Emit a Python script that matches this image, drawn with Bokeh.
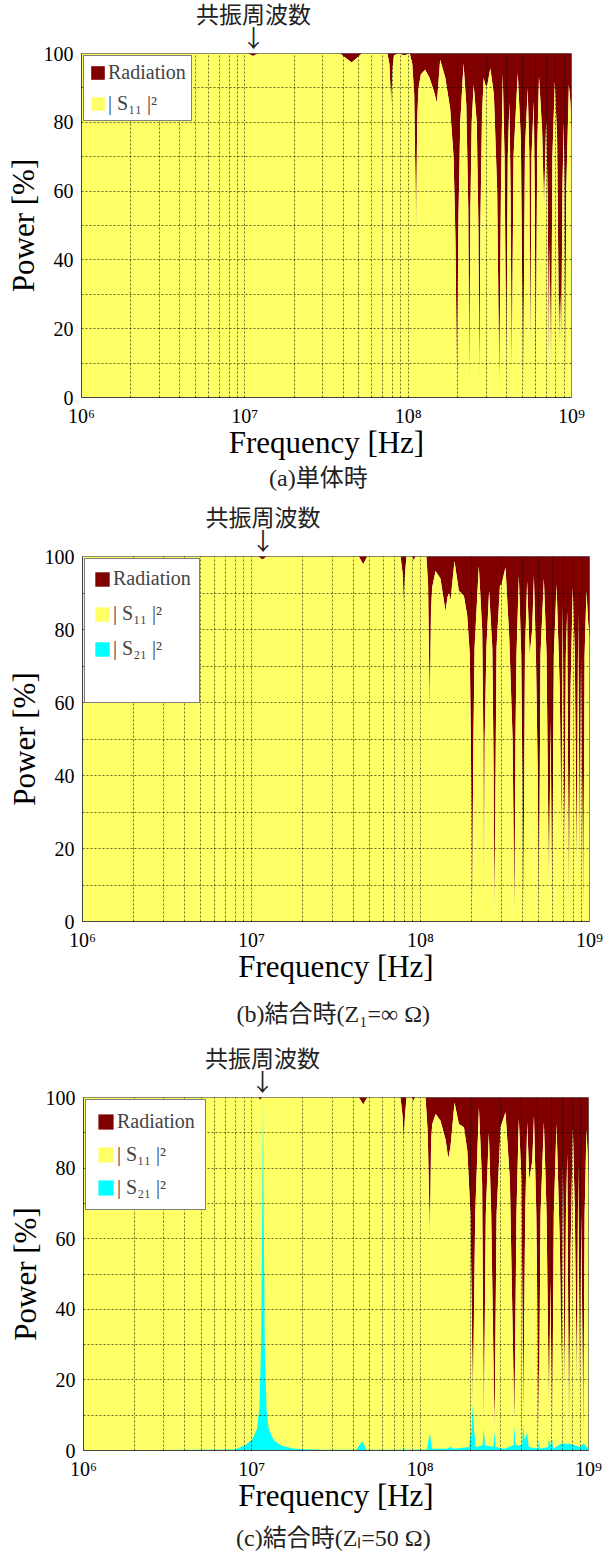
import numpy as np
from bokeh.plotting import figure
from bokeh.models import Range1d, FixedTicker, Legend, LegendItem, Title
from bokeh.embed import file_html
from bokeh.resources import INLINE

MAROON = "#800000"
YELLOW = "#FFFF66"
CYAN = "#00FFFF"
SERIF = "Liberation Serif"
MIXED = "Liberation Serif, Noto Sans CJK JP"
CJK = "Noto Sans CJK JP"

# ---------------- data (x = log10 of frequency in Hz, y = power in %) ----------------
# (a) single antenna : |S11|^2 (rest up to 100 % = radiation)
s11_a_points = [
    (6.000, 100), (7.020, 100), (7.050, 99.3), (7.080, 100), (7.583, 100), (7.654, 97.4),
    (7.716, 100), (7.873, 100), (7.885, 97), (7.896, 85.1), (7.905, 96), (7.913, 99.5),
    (7.945, 100), (7.975, 99.4), (8.010, 100), (8.025, 97), (8.037, 88), (8.049, 48.4),
    (8.055, 80), (8.063, 90), (8.078, 94), (8.104, 95.3), (8.130, 93), (8.158, 89),
    (8.176, 85.6), (8.186, 92), (8.196, 98.2), (8.227, 93), (8.257, 84), (8.278, 70),
    (8.290, 45), (8.299, 0.5), (8.307, 50), (8.319, 80), (8.339, 97.2), (8.356, 85),
    (8.368, 55), (8.374, 2), (8.381, 55), (8.389, 80), (8.401, 90.9), (8.420, 80),
    (8.430, 50), (8.436, 2.5), (8.442, 50), (8.452, 82), (8.462, 92.8), (8.472, 91),
    (8.483, 90.4), (8.503, 95.7), (8.525, 88), (8.545, 60), (8.558, 2), (8.568, 60),
    (8.579, 94.3), (8.590, 70), (8.601, 8.8), (8.610, 70), (8.620, 86), (8.627, 60),
    (8.634, 5), (8.645, 70), (8.671, 94.3), (8.690, 75), (8.704, 1), (8.715, 72),
    (8.732, 90), (8.742, 70), (8.748, 10.7), (8.755, 70), (8.769, 86), (8.775, 60),
    (8.781, 2), (8.790, 72), (8.801, 93.3), (8.820, 78), (8.832, 55), (8.845, 81),
    (8.855, 55), (8.861, 7.8), (8.866, 45), (8.875, 5), (8.883, 70), (8.898, 91.9),
    (8.912, 75), (8.924, 13.6), (8.930, 30), (8.937, 14.6), (8.945, 62), (8.953, 80),
    (8.957, 60), (8.961, 2), (8.968, 60), (8.984, 90.9), (8.993, 86), (9.000, 78.4),
]

# (b) coupled, Z1 = inf : |S11|^2 + |S21|^2 (top of the yellow area)
total_b_points = [
    (6.000, 100), (7.040, 100), (7.065, 99.2), (7.090, 100), (7.635, 100), (7.661, 97.9),
    (7.684, 100), (7.882, 100), (7.895, 95), (7.901, 87), (7.908, 95), (7.917, 100),
    (7.950, 100), (7.960, 99), (7.970, 100), (8.035, 100), (8.045, 92), (8.055, 56),
    (8.062, 85), (8.069, 91.5), (8.089, 96), (8.118, 94), (8.148, 85), (8.160, 89),
    (8.168, 90), (8.178, 88), (8.201, 98.8), (8.227, 90.6), (8.257, 89.2), (8.276, 84),
    (8.292, 73), (8.300, 40), (8.306, 3), (8.312, 45), (8.320, 75), (8.345, 97.4),
    (8.365, 80), (8.372, 50), (8.375, 3), (8.380, 50), (8.390, 75), (8.406, 90.6),
    (8.425, 75), (8.433, 40), (8.438, 1), (8.444, 40), (8.450, 75), (8.470, 92),
    (8.480, 92.5), (8.503, 97), (8.525, 78), (8.545, 50), (8.556, 1), (8.562, 50),
    (8.568, 73), (8.582, 94.7), (8.596, 73), (8.603, 40), (8.608, 1.6), (8.614, 40),
    (8.618, 73), (8.631, 93.3), (8.646, 73), (8.661, 80), (8.671, 94.7), (8.683, 73),
    (8.694, 40), (8.700, 2), (8.706, 40), (8.710, 73), (8.730, 94), (8.746, 73),
    (8.760, 9.4), (8.770, 55), (8.779, 2), (8.789, 73), (8.805, 92.4), (8.824, 64),
    (8.834, 23), (8.842, 87), (8.852, 17.6), (8.860, 73), (8.868, 85), (8.878, 2),
    (8.888, 64), (8.901, 91.5), (8.913, 73), (8.925, 14), (8.933, 85), (8.943, 13),
    (8.950, 73), (8.963, 1), (8.971, 73), (8.982, 90.6), (8.992, 82), (9.000, 78),
]
s21_b_points = [(6.000, 0), (9.000, 0)]

# (c) coupled, Zl = 50 ohm
total_c_points = [
    (6.000, 100), (7.040, 100), (7.050, 99.3), (7.060, 100), (7.636, 100), (7.662, 98),
    (7.685, 100), (7.883, 100), (7.895, 95), (7.903, 87.8), (7.910, 95), (7.919, 100),
    (7.950, 100), (7.960, 99), (7.970, 100), (8.032, 100), (8.045, 90), (8.058, 60),
    (8.065, 88), (8.072, 92.5), (8.092, 95.3), (8.121, 93.4), (8.151, 88), (8.167, 82.7),
    (8.180, 86), (8.204, 98.6), (8.230, 92.5), (8.260, 91.6), (8.280, 85), (8.299, 67),
    (8.313, 13), (8.327, 67), (8.349, 97.2), (8.368, 76), (8.378, 6), (8.390, 67),
    (8.408, 90), (8.422, 67), (8.442, 5.4), (8.454, 67), (8.478, 91.6), (8.507, 95.8),
    (8.533, 76.6), (8.560, 7), (8.572, 67), (8.586, 93.9), (8.602, 76.6), (8.612, 7.3),
    (8.624, 67), (8.636, 93), (8.648, 76.6), (8.666, 82), (8.676, 94.8), (8.690, 67),
    (8.705, 3.1), (8.715, 67), (8.735, 93), (8.751, 67), (8.765, 11), (8.774, 48),
    (8.784, 3.5), (8.794, 67), (8.810, 92.5), (8.830, 58), (8.840, 20), (8.848, 81),
    (8.858, 16), (8.866, 67), (8.874, 84), (8.884, 2), (8.894, 58), (8.907, 91.6),
    (8.919, 67), (8.931, 17.5), (8.939, 81), (8.949, 13), (8.957, 67), (8.969, 2),
    (8.977, 67), (8.988, 91), (8.998, 81), (9.000, 74.7),
]
s21_c_points = [
    (6.000, 0), (6.900, 0.3), (6.960, 1.5), (7.000, 3), (7.030, 6), (7.045, 12),
    (7.055, 30), (7.062, 70), (7.066, 99.5), (7.070, 70), (7.077, 30), (7.087, 12),
    (7.100, 6), (7.130, 3), (7.170, 1.5), (7.250, 0.5), (7.400, 0.2), (7.620, 0.2),
    (7.656, 2.6), (7.680, 0.2), (7.900, 0.2), (7.903, 1), (7.910, 0.2), (8.040, 0.3),
    (8.058, 5), (8.070, 0.5), (8.160, 0.5), (8.180, 1), (8.200, 0.5), (8.290, 1),
    (8.305, 6), (8.313, 13), (8.320, 6), (8.330, 1), (8.370, 1.5), (8.378, 6),
    (8.386, 1.5), (8.435, 1), (8.442, 5.4), (8.449, 1), (8.500, 0.5), (8.555, 1.5),
    (8.560, 7), (8.566, 1.5), (8.605, 1.5), (8.612, 7.3), (8.620, 3), (8.636, 5),
    (8.645, 1), (8.700, 0.5), (8.705, 3.1), (8.710, 0.5), (8.760, 1), (8.765, 3.5),
    (8.778, 1), (8.784, 3.5), (8.790, 0.5), (8.838, 2), (8.858, 2), (8.874, 1.7),
    (8.884, 2), (8.949, 1), (8.969, 2), (9.000, 0.5),
]

x_major = [1e6, 1e7, 1e8, 1e9]
x_major_labels = ["10⁶", "10⁷", "10⁸", "10⁹"]
x_minor = [k * 10.0 ** d for d in (6, 7, 8) for k in range(2, 10)]
y_major = [0, 20, 40, 60, 80, 100]
y_minor = [10, 30, 50, 70, 90]

captions = ["(a)単体時", "(b)結合時(Z₁=∞ Ω)", "(c)結合時(Zₗ=50 Ω)"]
resonance_text = "共振周波数"


def split(points):
    xs = 10.0 ** np.array([p[0] for p in points])
    ys = np.array([p[1] for p in points], dtype=float)
    return xs, ys


def make_panel(total_pts, s21_pts, height, borders, arrow_off, text_off,
               caption, cap_off, cap_standoff, legend_cfg, legend_pad_row=False):
    left, right, top, bottom = borders
    p = figure(width=610, height=height, x_axis_type="log",
               x_range=Range1d(1e6, 1e9), y_range=Range1d(0, 100),
               output_backend="svg", toolbar_location=None,
               min_border_left=left, min_border_right=right,
               min_border_top=top, min_border_bottom=bottom)
    fx, ft = split(total_pts)
    r_rad = p.varea(x=fx, y1=ft, y2=100, fill_color=MAROON)
    r_s11 = p.varea(x=fx, y1=0, y2=ft, fill_color=YELLOW)
    items = [LegendItem(label="Radiation", renderers=[r_rad]),
             LegendItem(label="| S₁₁ |²", renderers=[r_s11])]
    if s21_pts is not None:
        sx, sy = split(s21_pts)
        r_s21 = p.varea(x=sx, y1=0, y2=sy, fill_color=CYAN)
        items.append(LegendItem(label="| S₂₁ |²", renderers=[r_s21]))
    if legend_pad_row:
        r_blank = p.varea(x=[], y1=[], y2=[], fill_alpha=0)
        items.append(LegendItem(label=" ", renderers=[r_blank]))

    p.xaxis.ticker = FixedTicker(ticks=x_major, minor_ticks=x_minor)
    p.yaxis.ticker = FixedTicker(ticks=y_major, minor_ticks=y_minor)
    p.xaxis.major_label_overrides = {int(v): t for v, t in zip(x_major, x_major_labels)}

    for g in (p.xgrid[0], p.ygrid[0]):
        g.level = "guide"
        g.grid_line_color = "#000000"
        g.grid_line_alpha = 0.6
        g.grid_line_dash = "2 2"
        g.minor_grid_line_color = "#000000"
        g.minor_grid_line_alpha = 0.6
        g.minor_grid_line_dash = "2 2"

    p.axis.major_tick_line_color = None
    p.axis.minor_tick_line_color = None
    p.axis.axis_line_color = "#444444"
    p.axis.major_label_text_font = SERIF
    p.axis.major_label_text_font_size = "20px"
    p.axis.major_label_text_color = "black"
    p.axis.axis_label_text_font = SERIF
    p.axis.axis_label_text_font_size = "31px"
    p.axis.axis_label_text_font_style = "normal"
    p.axis.axis_label_text_color = "black"
    p.xaxis.axis_label = "Frequency [Hz]"
    p.yaxis.axis_label = "Power [%]"
    p.xaxis.major_label_standoff = 1
    p.xaxis.axis_label_standoff = -5
    p.yaxis.major_label_standoff = 2
    p.yaxis.axis_label_standoff = 0
    p.outline_line_color = "#666666"
    p.outline_line_width = 1

    pad, spacing, lh, glyph = legend_cfg
    legend = Legend(items=items, location="top_left", margin=2, padding=pad,
                    spacing=spacing, label_height=lh, glyph_height=glyph,
                    glyph_width=glyph, label_standoff=2,
                    label_text_font=SERIF, label_text_font_size="20px",
                    border_line_color="black", border_line_width=1,
                    background_fill_color="white", background_fill_alpha=1.0)
    p.add_layout(legend)

    # resonance marker above the frame: arrow (closest to frame), text, then a small spacer
    p.add_layout(Title(text="↓", align="left", offset=arrow_off, standoff=0,
                       text_font=CJK, text_font_size="24px", text_font_style="normal",
                       text_color="#222222"), "above")
    p.add_layout(Title(text=resonance_text, align="left", offset=text_off, standoff=-22,
                       text_font=MIXED, text_font_size="23px", text_font_style="normal",
                       text_color="#222222"), "above")
    p.add_layout(Title(text=" ", align="left", standoff=0, text_font=SERIF,
                       text_font_size="6px", text_font_style="normal"), "above")
    # caption below the x axis
    p.add_layout(Title(text=caption, align="left", offset=cap_off,
                       standoff=cap_standoff, text_font=MIXED, text_font_size="24px",
                       text_font_style="normal", text_color="#222222"), "below")
    return p


pa = make_panel(s11_a_points, None, 500, (81, 39, 53, 103), 160, 114.5,
                captions[0], 187.5, 0, (5, 8, 22, 17))
pb = make_panel(total_b_points, s21_b_points, 545, (82, 21, 56, 124), 168.5, 123,
                captions[1], 154, 24, (8, 12, 22, 18), legend_pad_row=True)
pc = make_panel(total_c_points, s21_c_points, 512, (83, 22, 52, 105), 167, 121.5,
                captions[2], 152.5, 14, (10, 10, 22, 19))

open("out.html", "w").write(file_html([pa, pb, pc], INLINE))
